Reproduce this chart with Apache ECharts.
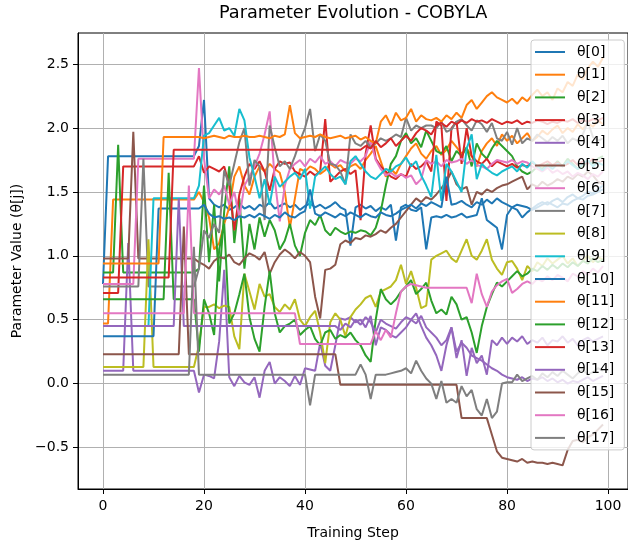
<!DOCTYPE html>
<html>
<head>
<meta charset="utf-8">
<script src="https://cdn.jsdelivr.net/npm/echarts@6/dist/echarts.min.js"></script>
<style>
  html, body { margin: 0; padding: 0; background: #fff; }
  #chart { width: 628px; height: 545px; }
</style>
</head>
<body>
<div id="chart"></div>
<script>
const xTicks = [0, 20, 40, 60, 80, 100];
const yTicks = [-0.5, 0.0, 0.5, 1.0, 1.5, 2.0, 2.5];

// values, one array per parameter (steps 0..99)
const theta0 = [0.78, 1.78, 1.78, 1.78, 1.78, 1.78, 1.78, 1.78, 1.78, 1.78,
  1.78, 1.78, 1.78, 1.78, 1.78, 1.78, 1.78, 1.78, 1.78, 1.86,
  2.22, 1.45, 1.40, 1.38, 1.40, 1.36, 1.38, 1.41, 1.37, 1.39,
  1.36, 1.40, 1.38, 1.42, 1.37, 1.39, 1.41, 1.38, 1.40, 1.36,
  1.39, 1.41, 1.38, 1.40, 1.37, 1.39, 1.42, 1.38, 1.36, 1.08,
  1.38, 1.40, 1.37, 1.39, 1.35, 1.38, 1.36, 1.40, 1.12, 1.38,
  1.40, 1.36, 1.35, 1.38, 1.05, 1.30, 1.31, 1.30, 1.32, 1.30,
  1.31, 1.33, 1.30, 1.31, 1.32, 1.45, 1.28, 1.25, 1.22, 1.05,
  1.32, 1.38, 1.40, 1.39, 1.38, 1.36, 1.38, 1.40, 1.42, 1.40,
  1.38, 1.41, 1.40, 1.43, 1.45, 1.44, 1.47, 1.48, 1.50, 1.52];
const theta1 = [0.47, 0.47, 1.44, 1.44, 1.44, 1.44, 1.44, 1.44, 1.44, 1.44,
  1.44, 1.44, 1.44, 1.44, 1.44, 1.44, 1.44, 1.44, 1.44, 1.50,
  1.42, 1.30, 1.05, 1.10, 1.25, 1.38, 1.62, 1.70, 1.55, 1.48,
  1.62, 1.70, 1.66, 1.72, 1.68, 1.65, 1.50, 1.22, 1.45, 1.68,
  1.66, 1.70, 1.68, 1.64, 1.67, 1.72, 1.69, 1.71, 1.66, 1.70,
  1.72, 1.68, 1.75, 1.80, 1.86, 1.74, 1.62, 1.68, 1.64, 1.72,
  1.78, 1.84, 1.88, 1.80, 1.76, 1.82, 1.86, 1.79, 1.83, 1.90,
  1.85, 1.80, 1.84, 1.78, 1.70, 1.82, 1.88, 1.92, 1.86, 1.95,
  1.90, 1.94, 1.88, 1.92, 1.96, 1.90, 1.93, 1.98, 1.95, 1.99,
  2.02, 1.96, 2.00, 1.97, 2.03, 1.99, 2.04, 2.01, 2.06, 2.03];
const theta2 = [0.87, 0.87, 0.87, 1.87, 0.87, 0.87, 0.87, 0.87, 0.87, 0.87,
  0.87, 0.87, 0.87, 0.87, 0.87, 0.87, 0.87, 0.87, 0.87, 0.90,
  1.55, 0.95, 1.40, 0.80, 1.35, 1.70, 1.10, 1.45, 0.90, 1.25,
  1.05, 1.30, 1.15, 1.28, 1.20, 1.05, 1.12, 1.25, 1.08, 1.00,
  1.18, 1.28, 1.24, 1.32, 1.20, 1.16, 1.22, 1.19, 1.17, 1.19,
  1.18, 1.20, 1.19, 1.16, 1.22, 1.35, 1.55, 1.72, 1.78, 1.90,
  1.96, 1.88, 1.92, 1.85, 1.98, 1.90, 1.82, 1.80, 1.86, 1.74,
  1.82, 1.78, 1.85, 1.70, 1.88, 1.80, 1.76, 1.84, 1.90, 1.86,
  1.82, 1.78, 1.70, 1.66, 1.64, 1.66, 1.70, 1.68, 1.72, 1.70,
  1.74, 1.70, 1.76, 1.72, 1.68, 1.70, 1.74, 1.72, 1.76, 1.78];
const theta3 = [0.71, 0.71, 0.71, 0.71, 1.70, 1.70, 1.70, 1.70, 1.70, 1.70,
  1.70, 1.70, 1.70, 1.70, 1.70, 1.70, 1.70, 1.70, 1.70, 1.78,
  1.65, 1.70, 1.68, 1.66, 1.70, 1.55, 1.20, 1.48, 1.62, 1.72,
  1.68, 1.74, 1.66, 1.51, 1.68, 1.74, 1.72, 1.73, 1.66, 1.64,
  1.62, 1.66, 1.63, 1.66, 2.07, 1.58, 1.62, 1.66, 1.68, 1.64,
  1.67, 1.28, 1.80, 2.02, 1.76, 1.70, 1.66, 1.62, 1.60, 1.64,
  1.62, 1.72, 1.68, 1.70, 1.74, 1.66, 2.05, 2.02, 1.43, 2.00,
  2.05, 1.72, 2.00, 1.78, 1.74, 1.72, 1.76, 1.70, 1.74, 1.72,
  1.70, 1.72, 1.69, 1.71, 1.70, 1.73, 1.70, 1.72, 1.74, 1.71,
  1.73, 1.70, 1.72, 1.75, 1.71, 1.74, 1.72, 1.76, 1.73, 1.75];
const theta4 = [0.10, 0.10, 0.10, 0.10, 0.10, 1.10, 0.10, 0.10, 0.10, 0.10,
  0.10, 0.10, 0.10, 0.10, 0.10, 0.10, 0.10, 0.10, 0.10, -0.07,
  0.07, 0.06, 0.04, 0.33, 0.89, 0.05, -0.02, 0.06, 0.01, -0.01,
  0.05, -0.11, 0.10, 0.17, 0.00, 0.05, 0.02, -0.02, 0.06, -0.01,
  0.12, 0.11, 0.10, 0.32, 0.14, 0.10, 0.30, 0.51, 0.50, 0.52,
  0.48, 0.50, 0.44, 0.53, 0.30, 0.44, 0.42, 0.38, 0.36, 0.40,
  0.44, 0.50, 0.55, 0.45, 0.36, 0.30, 0.22, 0.10, 0.30, 0.44,
  0.20, 0.34, 0.06, 0.28, 0.16, 0.22, 0.07, 0.34, 0.30, 0.36,
  0.31, 0.36, 0.33, 0.37, 0.31, 0.34, 0.32, 0.36, 0.30, 0.34,
  0.33, 0.37, 0.32, 0.35, 0.30, 0.34, 0.36, 0.33, 0.35, 0.37];
const theta5 = [0.98, 0.98, 0.98, 0.98, 0.98, 0.98, 1.97, 0.98, 0.98, 0.98,
  0.98, 0.98, 0.98, 0.98, 0.98, 0.98, 0.98, 0.98, 0.98, 0.95,
  0.93, 0.90, 0.96, 0.99, 0.98, 1.01, 0.95, 0.93, 0.98, 1.02,
  1.00, 0.97, 1.03, 0.86, 0.95, 1.01, 1.05, 1.02, 0.98, 1.03,
  1.00, 0.95, 0.68, 0.51, 0.89, 0.90, 0.93, 1.09, 1.12, 1.10,
  1.14, 1.13, 1.16, 1.15, 1.17, 1.20, 1.18, 1.22, 1.25, 1.30,
  1.35, 1.40, 1.45, 1.42, 1.46, 1.44, 1.48, 1.53, 1.58, 1.66,
  1.56, 1.52, 1.54, 1.40, 1.50, 1.48, 1.52, 1.50, 1.53, 1.55,
  1.56, 1.58, 1.60, 1.62, 1.52, 1.56, 1.54, 1.58, 1.55, 1.57,
  1.60, 1.58, 1.62, 1.60, 1.64, 1.62, 1.66, 1.63, 1.58, 1.56];
const theta6 = [0.78, 0.78, 0.78, 0.78, 0.78, 0.78, 0.78, 1.76, 1.76, 1.76,
  1.76, 1.76, 1.76, 1.76, 1.76, 1.76, 1.76, 1.76, 1.76, 2.47,
  1.76, 1.45, 1.52, 1.48, 1.55, 1.40, 1.50, 1.30, 1.55, 1.62,
  1.70, 1.80, 1.95, 2.13, 1.60, 1.27, 1.55, 1.68, 1.72, 1.75,
  1.70, 1.76, 1.73, 1.78, 1.72, 1.74, 1.70, 1.75, 1.73, 1.72,
  1.76, 1.74, 1.78, 1.90, 1.75, 1.68, 1.63, 1.65, 1.62, 1.64,
  1.61, 1.63, 1.56, 1.60, 1.75, 1.72, 1.74, 1.70, 1.75, 1.73,
  1.74, 1.76, 1.72, 1.75, 1.71, 1.70, 1.68, 1.72, 1.75, 1.74,
  1.73, 1.75, 1.72, 1.74, 1.73, 1.70, 1.68, 1.66, 1.69, 1.65,
  1.67, 1.64, 1.66, 1.62, 1.65, 1.63, 1.60, 1.64, 1.62, 1.66];
const theta7 = [0.76, 0.76, 0.76, 0.76, 0.76, 0.76, 0.76, 0.76, 1.76, 0.76,
  0.76, 0.76, 0.76, 0.76, 0.76, 0.76, 0.76, 0.76, 0.76, 0.90,
  1.20, 1.14, 1.25, 1.18, 1.67, 1.55, 1.72, 1.89, 2.00, 1.55,
  1.75, 1.70, 1.28, 2.02, 1.85, 1.70, 1.74, 1.68, 1.78, 1.90,
  2.00, 2.15, 1.82, 1.95, 1.90, 1.72, 1.71, 1.66, 1.56, 1.95,
  1.88, 1.86, 1.90, 1.85, 1.88, 1.92, 1.90, 1.92, 1.95, 1.93,
  2.08, 1.98, 2.02, 2.00, 2.02, 2.02, 2.00, 2.05, 1.97, 1.99,
  2.05, 2.07, 2.02, 1.98, 2.06, 2.03, 1.97, 2.04, 1.92, 1.90,
  1.97, 1.87, 2.00, 1.88, 1.92, 1.90, 1.95, 1.92, 1.89, 1.93,
  1.90, 1.94, 1.88, 1.92, 1.90, 1.95, 2.05, 1.93, 1.90, 1.92];
const theta8 = [0.13, 0.13, 0.13, 0.13, 0.13, 0.13, 0.13, 0.13, 0.13, 1.13,
  0.13, 0.13, 0.13, 0.13, 0.13, 0.13, 0.13, 0.13, 0.13, 0.30,
  0.60, 0.60, 0.62, 0.59, 0.61, 0.60, 0.37, 0.27, 0.86, 0.72,
  0.58, 0.78, 0.68, 0.70, 0.60, 0.56, 0.62, 0.58, 0.66, 0.50,
  0.45, 0.52, 0.57, 0.40, 0.16, 0.48, 0.55, 0.50, 0.37, 0.52,
  0.58, 0.62, 0.67, 0.69, 0.60, 0.72, 0.74, 0.76, 0.81, 0.93,
  0.78, 0.88, 0.75, 0.59, 0.61, 0.97, 1.00, 1.02, 1.04, 0.98,
  0.95, 1.04, 1.13, 1.00, 0.97, 1.04, 1.13, 0.97, 0.90, 0.85,
  0.95, 0.96, 0.90, 0.81, 0.92, 0.88, 0.95, 0.92, 0.98, 0.94,
  0.97, 1.00, 0.94, 0.98, 0.92, 0.96, 1.00, 0.95, 0.99, 0.97];
const theta9 = [0.45, 0.45, 0.45, 0.45, 0.45, 0.45, 0.45, 0.45, 0.45, 0.45,
  1.45, 1.45, 1.45, 1.45, 1.45, 1.45, 1.45, 1.45, 1.45, 1.55,
  1.94, 1.96, 2.02, 2.08, 1.98, 2.00, 1.94, 2.15, 2.06, 1.77,
  1.62, 1.45, 1.60, 1.40, 1.62, 1.54, 1.58, 1.62, 1.65, 1.60,
  1.68, 1.37, 1.62, 1.66, 1.70, 1.64, 1.60, 1.62, 1.56, 1.74,
  1.78, 1.72, 1.66, 1.62, 1.60, 1.64, 1.68, 1.66, 1.70, 1.72,
  1.77, 1.70, 1.74, 1.63, 1.55, 1.46, 1.79, 1.43, 1.72, 1.66,
  1.58, 1.50, 1.84, 1.95, 1.60, 1.72, 1.68, 1.65, 1.63, 1.66,
  1.68, 1.70, 1.66, 1.72, 1.69, 1.74, 1.70, 1.67, 1.71, 1.68,
  1.72, 1.70, 1.74, 1.71, 1.68, 1.72, 1.75, 1.70, 1.73, 1.71];
const theta10 = [0.37, 0.37, 0.37, 0.37, 0.37, 0.37, 0.37, 0.37, 0.37, 0.37,
  0.37, 1.37, 1.37, 1.37, 1.37, 1.37, 1.37, 1.37, 1.37, 1.37,
  1.40, 1.33, 1.30, 1.31, 1.29, 1.30, 1.28, 1.31, 1.30, 1.32,
  1.30, 1.33, 1.31, 1.29, 1.32, 1.30, 1.34, 1.31, 1.30, 1.33,
  1.35, 1.52, 1.33, 1.31, 1.34, 1.32, 1.30, 1.33, 1.31, 1.34,
  1.32, 1.30, 1.33, 1.31, 1.30, 1.34, 1.32, 1.31, 1.33, 1.36,
  1.38, 1.40, 1.37, 1.41, 1.39, 1.42, 1.40, 1.38, 1.62, 1.40,
  1.41, 1.43, 1.40, 1.38, 1.42, 1.40, 1.44, 1.41, 1.45, 1.42,
  1.40, 1.38, 1.36, 1.30, 1.34, 1.37, 1.40, 1.42, 1.40, 1.43,
  1.45, 1.42, 1.46, 1.48, 1.45, 1.47, 1.50, 1.49, 1.52, 1.55];
const theta11 = [0.94, 0.94, 0.94, 0.94, 0.94, 0.94, 0.94, 0.94, 0.94, 0.94,
  0.94, 0.94, 1.93, 1.93, 1.93, 1.93, 1.93, 1.93, 1.93, 1.93,
  1.92, 1.93, 1.94, 1.93, 1.92, 1.94, 1.93, 1.93, 1.94, 1.93,
  1.93, 1.94, 1.93, 1.92, 1.94, 1.93, 1.95, 2.18, 1.96, 1.92,
  1.93, 1.94, 1.93, 1.95, 1.93, 1.92, 1.93, 1.94, 1.92, 1.93,
  1.94, 1.91, 1.93, 1.90, 1.88, 2.05, 2.10, 2.02, 2.12, 2.06,
  2.08, 2.15, 2.05, 2.10, 2.07, 2.06, 2.08, 2.05, 2.10, 2.07,
  2.12, 2.08, 2.18, 2.22, 2.15, 2.20, 2.25, 2.28, 2.24, 2.22,
  2.20, 2.23, 2.19, 2.24, 2.21, 2.26, 2.30, 2.25, 2.28, 2.22,
  2.31, 2.28, 2.36, 2.33, 2.42, 2.38, 2.47, 2.52, 2.48, 2.55];
const theta12 = [0.66, 0.66, 0.66, 0.66, 0.66, 0.66, 0.66, 0.66, 0.66, 0.66,
  0.66, 0.66, 0.66, 1.65, 0.66, 0.66, 0.66, 0.66, 0.66, 0.25,
  0.66, 0.55, 0.38, 1.05, 1.25, 0.47, 0.55, 0.70, 0.86, 0.52,
  0.35, 0.25, 0.60, 0.88, 0.55, 0.40, 0.45, 0.47, 0.50, 0.38,
  0.42, 0.45, 0.35, 0.30, 0.40, 0.42, 0.35, 0.38, 0.36, 0.40,
  0.34, 0.30, 0.22, 0.17, 0.50, 0.74, 0.66, 0.62, 0.66, 0.72,
  0.76, 0.81, 0.70, 0.74, 0.79, 0.65, 0.55, 0.58, 0.54, 0.68,
  0.62, 0.50, 0.52, 0.40, 0.24, 0.45, 0.60, 0.70, 0.79, 0.76,
  0.80, 0.84, 0.88, 0.84, 0.86, 0.90, 0.88, 0.92, 0.89, 0.93,
  0.90, 0.94, 0.91, 0.95, 0.92, 0.96, 0.94, 0.98, 0.95, 0.97];
const theta13 = [0.83, 0.83, 0.83, 0.83, 0.83, 0.83, 0.83, 0.83, 0.83, 0.83,
  0.83, 0.83, 0.83, 0.83, 1.83, 1.83, 1.83, 1.83, 1.83, 1.83,
  1.83, 1.83, 1.83, 1.83, 1.83, 1.83, 1.83, 1.83, 1.83, 1.83,
  1.83, 1.83, 1.83, 1.83, 1.83, 1.83, 1.83, 1.83, 1.83, 1.83,
  1.83, 1.83, 1.83, 1.83, 1.83, 1.83, 1.83, 1.83, 1.83, 1.83,
  1.83, 1.83, 1.86, 1.84, 1.90, 1.85, 1.88, 1.92, 1.86, 1.90,
  1.94, 1.90, 1.96, 2.00, 1.98, 1.95, 2.02, 2.04, 2.01, 2.05,
  2.03, 2.06, 2.04, 2.07, 2.05, 2.06, 2.04, 2.07, 2.05, 2.03,
  2.05, 2.04, 2.06, 2.03, 2.05, 2.04, 2.06, 2.05, 2.03, 2.05,
  2.04, 2.06, 2.05, 2.07, 2.04, 2.06, 2.05, 2.07, 2.06, 2.08];
const theta14 = [0.45, 0.45, 0.45, 0.45, 0.45, 0.45, 0.45, 0.45, 0.45, 0.45,
  0.45, 0.45, 0.45, 0.45, 0.45, 1.45, 0.45, 0.45, 0.45, 0.45,
  0.45, 0.45, 0.45, 0.45, 0.45, 0.45, 0.45, 0.45, 0.45, 0.45,
  0.45, 0.45, 0.45, 0.45, 0.45, 0.45, 0.45, 0.45, 0.45, 0.45,
  0.45, 0.45, 0.45, 0.45, 0.45, 0.45, 0.45, 0.42, 0.47, 0.44,
  0.50, 0.46, 0.52, 0.48, 0.40, 0.50, 0.47, 0.45, 0.43, 0.48,
  0.52, 0.50, 0.47, 0.53, 0.44, 0.40, 0.36, 0.30, 0.34, 0.44,
  0.25, 0.32, 0.28, 0.22, 0.20, 0.18, 0.15, 0.12, 0.10, 0.07,
  0.05, 0.04, 0.03, 0.05, 0.02, 0.04, 0.03, 0.05, 0.02, 0.04,
  0.01, 0.03, 0.00, 0.02, 0.01, 0.03, 0.05, 0.02, 0.04, 0.06];
const theta15 = [0.23, 0.23, 0.23, 0.23, 0.23, 0.23, 0.23, 0.23, 0.23, 0.23,
  0.23, 0.23, 0.23, 0.23, 0.23, 0.23, 1.23, 0.23, 0.23, 0.23,
  0.23, 0.23, 0.23, 0.23, 0.23, 0.23, 0.23, 0.23, 0.23, 0.23,
  0.23, 0.23, 0.23, 0.23, 0.23, 0.23, 0.23, 0.23, 0.23, 0.23,
  0.23, 0.23, 0.23, 0.23, 0.23, 0.23, 0.23, -0.01, -0.01, -0.01,
  -0.01, -0.01, -0.01, -0.01, -0.01, -0.01, -0.01, -0.01, -0.01, -0.01,
  -0.01, -0.01, -0.01, -0.01, -0.01, -0.01, -0.01, -0.01, -0.01, -0.01,
  -0.01, -0.27, -0.27, -0.27, -0.27, -0.27, -0.27, -0.40, -0.53, -0.58,
  -0.59, -0.60, -0.61, -0.59, -0.62, -0.61, -0.62, -0.62, -0.63, -0.62,
  -0.63, -0.64, -0.52, -0.45, -0.44, -0.46, -0.42, -0.40, -0.36, -0.32];
const theta16 = [0.55, 0.55, 0.55, 0.55, 0.55, 0.55, 0.55, 0.55, 0.55, 0.55,
  0.55, 0.55, 0.55, 0.55, 0.55, 0.55, 0.55, 1.55, 0.55, 0.55,
  0.55, 0.55, 0.55, 0.55, 0.55, 0.55, 0.55, 0.55, 0.55, 0.55,
  0.55, 0.55, 0.55, 0.55, 0.55, 0.55, 0.55, 0.55, 0.55, 0.31,
  0.31, 0.31, 0.31, 0.31, 0.31, 0.31, 0.31, 0.31, 0.31, 0.31,
  0.31, 0.31, 0.31, 0.31, 0.41, 0.34, 0.42, 0.36, 0.55, 0.72,
  0.76, 0.78, 0.77, 0.76, 0.75, 0.75, 0.75, 0.75, 0.75, 0.75,
  0.75, 0.75, 0.75, 0.63, 0.86, 0.70, 0.60, 0.72, 0.77, 0.80,
  0.82, 0.71, 0.74, 0.78, 0.80, 0.78, 0.82, 0.80, 0.84, 0.81,
  0.85, 0.83, 0.80, 0.86, 0.84, 0.88, 0.85, 0.90, 0.87, 0.92];
const theta17 = [0.07, 0.07, 0.07, 0.07, 0.07, 0.07, 0.07, 0.07, 0.07, 0.07,
  0.07, 0.07, 0.07, 0.07, 0.07, 0.07, 0.07, 0.07, 1.07, 0.07,
  0.07, 0.07, 0.07, 0.07, 0.07, 0.07, 0.07, 0.07, 0.07, 0.07,
  0.07, 0.07, 0.07, 0.07, 0.07, 0.07, 0.07, 0.07, 0.07, 0.07,
  0.07, -0.17, 0.07, 0.07, 0.07, 0.07, 0.07, 0.07, 0.07, 0.07,
  0.07, 0.15, 0.07, -0.12, 0.07, 0.07, 0.07, 0.08, 0.09, 0.10,
  0.12, 0.08, 0.18, 0.10, 0.04, 0.00, -0.12, 0.02, -0.15, -0.12,
  -0.15, -0.02, -0.10, -0.05, -0.20, -0.25, -0.12, -0.27, -0.22, 0.00,
  0.01, 0.01, 0.07, 0.02, 0.04, 0.06, 0.03, 0.08, 0.05, 0.09,
  0.06, 0.10, 0.07, 0.04, 0.08, 0.11, 0.07, 0.09, 0.12, 0.10];

const thetas = [theta0, theta1, theta2, theta3, theta4, theta5, theta6, theta7, theta8,
  theta9, theta10, theta11, theta12, theta13, theta14, theta15, theta16, theta17];

// matplotlib tab10
const colors = ['#1f77b4', '#ff7f0e', '#2ca02c', '#d62728', '#9467bd',
  '#8c564b', '#e377c2', '#7f7f7f', '#bcbd22', '#17becf'];

const font = 'DejaVu Sans';
const chart = echarts.init(document.getElementById('chart'), null, { renderer: 'canvas' });

const option = {
    animation: false,
    backgroundColor: '#fff',
    title: {
        text: 'Parameter Evolution - COBYLA',
        left: 219,
        top: 4,
        padding: 0,
        textStyle: { fontFamily: font, fontSize: 17.7, fontWeight: 'normal', color: '#000' }
    },
    grid: {
        left: 78, top: 33, width: 551, height: 462,
        show: true, borderColor: '#000', borderWidth: 1, backgroundColor: 'transparent'
    },
    legend: {
        orient: 'vertical',
        left: 531, top: 40,
        // plain line sample, no marker
        icon: 'rect',
        itemWidth: 30, itemHeight: 2, itemGap: 8.7,
        padding: [5, 10, 5, 4],
        backgroundColor: 'rgba(255,255,255,0.8)',
        borderColor: '#cccccc', borderWidth: 1, borderRadius: 3,
        textStyle: { fontFamily: font, fontSize: 14, color: '#000', padding: [0, 0, 0, 7] }
    },
    xAxis: {
        type: 'value', min: -4.95, max: 103.95,
        name: 'Training Step', nameLocation: 'middle', nameGap: 37,
        nameTextStyle: { fontFamily: font, fontSize: 14, color: '#000' },
        axisLine: { show: true, onZero: false, lineStyle: { color: '#000', width: 1 } },
        axisTick: { show: true, length: 5, lineStyle: { color: '#000' }, customValues: xTicks },
        axisLabel: { customValues: xTicks, fontFamily: font, fontSize: 14, color: '#000', margin: 10 },
        splitLine: { show: true, lineStyle: { color: '#b0b0b0', width: 1 } }
    },
    yAxis: {
        type: 'value', min: -0.825, max: 2.744,
        name: 'Parameter Value (θ[j])', nameLocation: 'middle', nameGap: 53,
        nameTextStyle: { fontFamily: font, fontSize: 14, color: '#000' },
        axisLine: { show: true, onZero: false, lineStyle: { color: '#000', width: 1 } },
        axisTick: { show: true, length: 5, lineStyle: { color: '#000' }, customValues: yTicks },
        axisLabel: {
            customValues: yTicks, fontFamily: font, fontSize: 14, color: '#000', margin: 9,
            formatter: v => v.toFixed(1).replace('-', '\u2212')
        },
        splitLine: { show: true, lineStyle: { color: '#b0b0b0', width: 1 } }
    },
    series: thetas.map((vals, i) => ({
        name: 'θ[' + i + ']',
        type: 'line',
        symbol: 'none',
        data: vals.map((v, step) => [step, v]),
        lineStyle: { width: 2, color: colors[i % 10] },
        itemStyle: { color: colors[i % 10] }
    }))
};

chart.setOption(option);
</script>
</body>
</html>
